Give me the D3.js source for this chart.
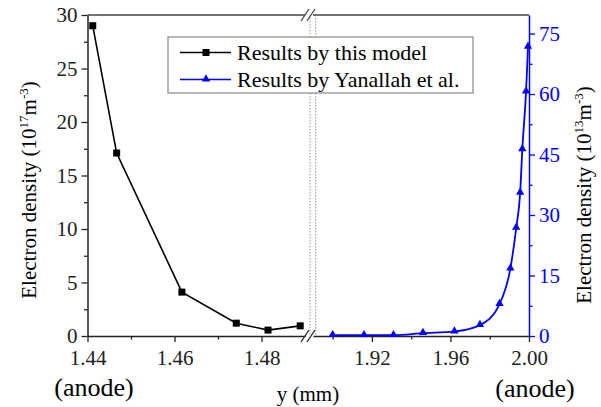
<!DOCTYPE html>
<html>
<head>
<meta charset="utf-8">
<script src="https://cdn.jsdelivr.net/npm/d3@7"></script>
<style>
  body { margin: 0; background: #fff; }
  text { font-family: "Liberation Serif", "Times New Roman", serif; }
</style>
</head>
<body>
<div id="chart"></div>
<script>
// data
const yThisModel = [1.4412, 1.4467, 1.4617, 1.4742, 1.4815, 1.4889];   // mm
const neThisModel = [29.0, 17.1, 4.1, 1.2, 0.55, 0.95];                 // 1e17 m^-3
const yYanallah = [1.900, 1.916, 1.931, 1.946, 1.962, 1.975, 1.985, 1.9905, 1.9935, 1.9955, 1.9966, 1.9985, 1.9995];
const neYanallah = [0.2, 0.2, 0.2, 0.7, 1.1, 2.7, 7.9, 16.7, 26.8, 35.5, 46.3, 60.6, 71.7]; // 1e13 m^-3

const leftXTicks = [1.44, 1.46, 1.48];
const leftXMinor = [1.45, 1.47];
const rightXTicks = [1.92, 1.96, 2.00];
const rightXMinor = [1.90, 1.94, 1.98];
const leftYTicks = [0, 5, 10, 15, 20, 25, 30];
const rightYTicks = [0, 15, 30, 45, 60, 75];
const legendLabels = ["Results by this model", "Results by Yanallah et al."];

const width = 601, height = 407;
const plotTop = 15, plotBottom = 336;
const blue = "#0000ff";
const axisCol = "#222";
const serif = "Liberation Serif";

const svg = d3.select("#chart").append("svg")
    .attr("width", width).attr("height", height)
    .attr("font-family", serif);

const xL = d3.scaleLinear().domain([1.44, 1.49]).range([87.5, 305]);
const xR = d3.scaleLinear().domain([1.89, 2.00]).range([313, 529]);
const yL = d3.scaleLinear().domain([0, 30]).range([plotBottom, plotTop]);
const yR = d3.scaleLinear().domain([0, 79.6]).range([plotBottom, plotTop]);

// dotted break lines
[310, 315.7].forEach(x => {
  svg.append("line")
      .attr("x1", x).attr("x2", x).attr("y1", plotTop).attr("y2", plotBottom)
      .attr("stroke", "#999").attr("stroke-width", 1)
      .attr("stroke-dasharray", "1.5,1.5");
});

// top frame
svg.append("line").attr("x1", xL.range()[0]).attr("x2", xL.range()[1])
    .attr("y1", plotTop).attr("y2", plotTop).attr("stroke", "#444").attr("stroke-width", 1.5);
svg.append("line").attr("x1", xR.range()[0]).attr("x2", xR.range()[1])
    .attr("y1", plotTop).attr("y2", plotTop).attr("stroke", "#444").attr("stroke-width", 1.5);

function styleAxis(g, col, size) {
  g.attr("font-family", serif).attr("font-size", size);
  g.select(".domain").attr("stroke", col).attr("stroke-width", 1.5);
  g.selectAll(".tick line").attr("stroke", col).attr("stroke-width", 1.3);
  g.selectAll(".tick text").attr("fill", col);
}

// bottom axes
const gxL = svg.append("g").attr("transform", `translate(0,${plotBottom})`)
    .call(d3.axisBottom(xL).tickValues(leftXTicks).tickFormat(d3.format(".2f")).tickSize(6).tickSizeOuter(0).tickPadding(8));
styleAxis(gxL, axisCol, 21);
svg.append("g").attr("transform", `translate(0,${plotBottom})`)
    .call(d3.axisBottom(xL).tickValues(leftXMinor).tickFormat("").tickSize(3.5).tickSizeOuter(0))
    .call(g => { g.select(".domain").remove(); g.selectAll("line").attr("stroke", axisCol).attr("stroke-width", 1.3); });

const gxR = svg.append("g").attr("transform", `translate(0,${plotBottom})`)
    .call(d3.axisBottom(xR).tickValues(rightXTicks).tickFormat(d3.format(".2f")).tickSize(6).tickSizeOuter(0).tickPadding(8));
styleAxis(gxR, axisCol, 21);
svg.append("g").attr("transform", `translate(0,${plotBottom})`)
    .call(d3.axisBottom(xR).tickValues(rightXMinor).tickFormat("").tickSize(3.5).tickSizeOuter(0))
    .call(g => { g.select(".domain").remove(); g.selectAll("line").attr("stroke", axisCol).attr("stroke-width", 1.3); });

// left axis
const gyL = svg.append("g").attr("transform", `translate(${xL.range()[0]},0)`)
    .call(d3.axisLeft(yL).tickValues(leftYTicks).tickSize(6).tickSizeOuter(0).tickPadding(4));
styleAxis(gyL, axisCol, 21);
svg.append("g").attr("transform", `translate(${xL.range()[0]},0)`)
    .call(d3.axisLeft(yL).tickValues(d3.range(2.5, 30, 5)).tickFormat("").tickSize(3.5).tickSizeOuter(0))
    .call(g => { g.select(".domain").remove(); g.selectAll("line").attr("stroke", axisCol).attr("stroke-width", 1.3); });

// right axis (blue)
const gyR = svg.append("g").attr("transform", `translate(${xR.range()[1]},0)`)
    .call(d3.axisRight(yR).tickValues(rightYTicks).tickSize(6).tickSizeOuter(0).tickPadding(4));
styleAxis(gyR, blue, 21);
svg.append("g").attr("transform", `translate(${xR.range()[1]},0)`)
    .call(d3.axisRight(yR).tickValues(d3.range(7.5, 79, 15)).tickFormat("").tickSize(3.5).tickSizeOuter(0))
    .call(g => { g.select(".domain").remove(); g.selectAll("line").attr("stroke", blue).attr("stroke-width", 1.3); });

// break marks
[[plotTop, "#444"], [plotBottom, axisCol]].forEach(([yy, c]) => {
  [305, 311].forEach(x => {
    svg.append("line")
        .attr("x1", x - 4).attr("y1", yy + 6).attr("x2", x + 4).attr("y2", yy - 6)
        .attr("stroke", c).attr("stroke-width", 1.3);
  });
});

// series: this model
const thisData = yThisModel.map((x, i) => [x, neThisModel[i]]);
svg.append("path").datum(thisData)
    .attr("fill", "none").attr("stroke", "#000").attr("stroke-width", 1.6)
    .attr("d", d3.line().x(d => xL(d[0])).y(d => yL(d[1])));
svg.selectAll("rect.sq").data(thisData).join("rect").attr("class", "sq")
    .attr("x", d => xL(d[0]) - 3.5).attr("y", d => yL(d[1]) - 3.5)
    .attr("width", 7).attr("height", 7).attr("fill", "#000");

// series: Yanallah et al.
const yanData = yYanallah.map((x, i) => [x, neYanallah[i]]);
svg.append("path").datum(yanData)
    .attr("fill", "none").attr("stroke", blue).attr("stroke-width", 1.8)
    .attr("d", d3.line().curve(d3.curveMonotoneX).x(d => xR(d[0])).y(d => yR(d[1])));
const tri = d3.symbol().type(d3.symbolTriangle).size(30);
svg.selectAll("path.tri").data(yanData).join("path").attr("class", "tri")
    .attr("transform", d => `translate(${xR(d[0])},${yR(d[1]) - 0.5})`)
    .attr("d", tri).attr("fill", blue);

// legend
const lg = svg.append("g");
lg.append("rect").attr("x", 168).attr("y", 37).attr("width", 305).attr("height", 56)
    .attr("fill", "#fff").attr("stroke", "#888").attr("stroke-width", 1.2);
[52.5, 79.5].forEach((yy, i) => {
  const col = i === 0 ? "#000" : blue;
  lg.append("line").attr("x1", 180).attr("x2", 231).attr("y1", yy).attr("y2", yy)
      .attr("stroke", col).attr("stroke-width", 1.6);
  if (i === 0) {
    lg.append("rect").attr("x", 206 - 3.5).attr("y", yy - 3.5).attr("width", 7).attr("height", 7).attr("fill", col);
  } else {
    lg.append("path").attr("transform", `translate(206,${yy - 0.5})`).attr("d", tri).attr("fill", col);
  }
  lg.append("text").attr("x", 237).attr("y", yy + 7).attr("font-size", 22)
      .attr("fill", "#000").text(legendLabels[i]);
});

// axis titles
function densityLabel(x, y, exp) {
  const t = svg.append("text")
      .attr("transform", `translate(${x},${y}) rotate(-90)`)
      .attr("text-anchor", "middle").attr("font-size", 21).attr("fill", "#000");
  t.append("tspan").text("Electron density (10");
  t.append("tspan").attr("dy", -8).attr("font-size", 13).text(exp);
  t.append("tspan").attr("dy", 8).text("m");
  t.append("tspan").attr("dy", -8).attr("font-size", 13).text("-3");
  t.append("tspan").attr("dy", 8).text(")");
}
densityLabel(36, 190, "17");
densityLabel(591, 195, "13");

svg.append("text").attr("x", 308).attr("y", 401).attr("text-anchor", "middle")
    .attr("font-size", 21).text("y (mm)");
svg.append("text").attr("x", 94).attr("y", 396).attr("text-anchor", "middle")
    .attr("font-size", 26).text("(anode)");
svg.append("text").attr("x", 535).attr("y", 397).attr("text-anchor", "middle")
    .attr("font-size", 26).text("(anode)");
</script>
</body>
</html>
